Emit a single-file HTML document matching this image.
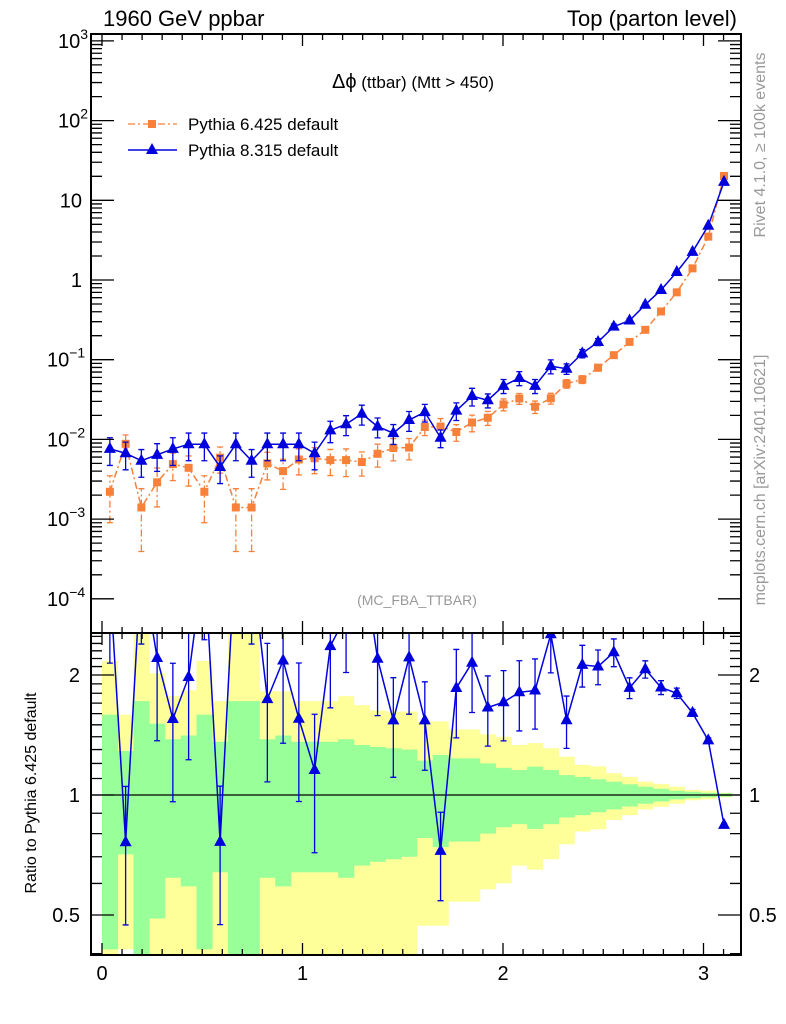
<!DOCTYPE html>
<html><head><meta charset="utf-8"><style>
html,body{margin:0;padding:0;background:#fff;width:786px;height:1024px;overflow:hidden;position:relative;}
svg{display:block;position:absolute;left:0;top:0;font-family:"Liberation Sans",Arial,sans-serif;}
</style></head><body>
<svg id="chart" width="786" height="1024" viewBox="0 0 786 1024" xmlns="http://www.w3.org/2000/svg" overflow="hidden">
<defs>
<clipPath id="clipMain"><rect x="91" y="34" width="650" height="599"/></clipPath>
<clipPath id="clipRat"><rect x="91" y="633" width="650" height="322"/></clipPath>
</defs>
<g id="bands" clip-path="url(#clipRat)"></g>
<g id="marks"></g>
<g id="axes"></g>
<text x="103" y="26" font-size="22">1960 GeV ppbar</text>
<text x="737" y="26" font-size="22" text-anchor="end">Top (parton level)</text>
<text x="413" y="88" font-size="17" text-anchor="middle"><tspan font-size="20">Δϕ</tspan> (ttbar) (Mtt &gt; 450)</text>
<text x="417" y="605" font-size="14" fill="#999" text-anchor="middle">(MC_FBA_TTBAR)</text>
<text transform="translate(765,145) rotate(-90)" font-size="16" fill="#999" text-anchor="middle">Rivet 4.1.0, ≥ 100k events</text>
<text transform="translate(765,480) rotate(-90)" font-size="16" fill="#999" text-anchor="middle">mcplots.cern.ch [arXiv:2401.10621]</text>
<text transform="translate(36,793) rotate(-90)" font-size="16" text-anchor="middle">Ratio to Pythia 6.425 default</text>
<g>
<g>
<line x1="128" y1="124" x2="177" y2="124" stroke="#f7813b" stroke-width="1.3" stroke-dasharray="7,3,2,3"/>
<rect x="148" y="120" width="8" height="8" fill="#f7813b"/>
<text x="188" y="130" font-size="17">Pythia 6.425 default</text>
</g>
<g>
<line x1="128" y1="150" x2="177" y2="150" stroke="#0000dd" stroke-width="1.5"/>
<polygon points="152,143 158,154 146,154" fill="#0000dd"/>
<text x="188" y="156" font-size="17">Pythia 8.315 default</text>
</g>
</g>
</svg>
<script>
const pythia8 = [0.0076,0.0067,0.0054,0.0064,0.0076,0.0087,0.0087,0.0045,0.0087,0.0054,0.0087,0.0087,0.0087,0.0067,0.013,0.0155,0.021,0.0145,0.012,0.0175,0.022,0.0105,0.023,0.035,0.031,0.047,0.059,0.047,0.083,0.077,0.12,0.167,0.26,0.31,0.49,0.75,1.26,2.25,4.8,17];
const pythia6 = [0.0022,0.0088,0.0014,0.0029,0.0049,0.0044,0.0022,0.0059,0.0014,0.0014,0.005,0.004,0.0056,0.0058,0.0055,0.0055,0.0052,0.0066,0.0078,0.0079,0.0143,0.0145,0.0124,0.0163,0.0187,0.0275,0.0326,0.0257,0.0328,0.05,0.0566,0.0795,0.114,0.167,0.237,0.403,0.7,1.4,3.5,20.2];
const relErr8 = [0.38,0.38,0.38,0.38,0.38,0.38,0.38,0.38,0.38,0.38,0.38,0.38,0.38,0.38,0.3,0.28,0.28,0.28,0.28,0.28,0.25,0.25,0.25,0.25,0.2,0.2,0.2,0.2,0.2,0.15,0.12,0.1,0.08,0.06,0.05,0.04,0.03,0.02,0.015,0.01];
const relErr6 = [0.59,0.29,0.72,0.51,0.38,0.41,0.59,0.36,0.72,0.72,0.38,0.41,0.36,0.36,0.36,0.38,0.335,0.32,0.31,0.30,0.22,0.26,0.236,0.236,0.2,0.17,0.155,0.178,0.155,0.122,0.11,0.095,0.08,0.064,0.049,0.037,0.025,0.019,0.013,0.01];
const yellowErr = [1.17,0.59,1.6,1.02,0.77,0.83,1.17,0.72,1.6,1.6,0.82,0.82,0.72,0.72,0.72,0.77,0.68,0.63,0.62,0.62,0.53,0.53,0.46,0.46,0.42,0.40,0.335,0.35,0.31,0.248,0.19,0.18,0.134,0.11,0.08,0.066,0.049,0.03,0.025,0.013];
const xTicks = [0,1,2,3];
const mainTicks = [-4,-3,-2,-1,0,1,2,3];
const ratioTicks = [0.5,1,2];

const NS="http://www.w3.org/2000/svg";
const nb = pythia8.length, bw = Math.PI/nb;
const clamp=(v,a,b)=>Math.min(b,Math.max(a,v));
const X = v => 102 + v*200.5;
const Y = v => clamp(280 - 79.7*Math.log10(Math.max(v,1e-9)), 20, 640);
const YR = r => clamp(795 - 398.6*Math.log10(Math.max(r,1e-3)), 625, 960);
const YRline = r => clamp(795 - 398.6*Math.log10(Math.max(r,1e-3)), 540, 960);
function mk(tag, attrs, parent){const e=document.createElementNS(NS,tag);for(const k in attrs)e.setAttribute(k,attrs[k]);parent.appendChild(e);return e;}
const bands=document.getElementById('bands'), marks=document.getElementById('marks'), axes=document.getElementById('axes');

for(let i=0;i<nb;i++){
  const x0=X(i*bw), x1=X((i+1)*bw);
  const yt=YR(1+yellowErr[i]), yb=YR(Math.max(1-yellowErr[i],1e-3));
  const r=mk('rect',{x:x0,y:yt,width:x1-x0+0.3,height:Math.max(0,yb-yt),fill:'#ffff99'},bands);
  
  
}
for(let i=0;i<nb;i++){
  const x0=X(i*bw), x1=X((i+1)*bw);
  const yt=YR(1+relErr6[i]), yb=YR(Math.max(1-relErr6[i],1e-3));
  const r=mk('rect',{x:x0,y:yt,width:x1-x0+0.3,height:Math.max(0,yb-yt),fill:'#99ff99'},bands);
  
  
}
const refLine=mk('line',{x1:91,x2:741,y1:YR(1),y2:YR(1),stroke:'#000','stroke-width':1.3},marks);



const gMain=mk('g',{'clip-path':'url(#clipMain)'},marks);
const gRat=mk('g',{'clip-path':'url(#clipRat)'},marks);

function series(g, vals, errs, color, dash, marker, yf, ylf, name){
  let pts=[];
  for(let i=0;i<nb;i++){
    const cx=X((i+0.5)*bw), cy=ylf(vals[i]);
    pts.push(cx+','+cy);
    const lo=yf(vals[i]*(1-errs[i])), hi=yf(vals[i]*(1+errs[i]));
    const eb=mk('path',{d:`M${cx},${lo}V${hi}M${cx-3},${lo}H${cx+3}M${cx-3},${hi}H${cx+3}`,stroke:color,'stroke-width':1.3,fill:'none','stroke-dasharray':dash||'none'},g);
    
    
  }
  const pl=mk('polyline',{points:pts.join(' '),fill:'none',stroke:color,'stroke-width':1.5,'stroke-dasharray':dash||'none'},g);
  
  
  for(let i=0;i<nb;i++){
    const cx=X((i+0.5)*bw), cy=ylf(vals[i]);
    let m;
    if(marker==='sq') m=mk('rect',{x:cx-4,y:cy-4,width:8,height:8,fill:color},g);
    else m=mk('polygon',{points:`${cx},${cy-7} ${cx+6},${cy+4} ${cx-6},${cy+4}`,fill:color},g);
    
    
  }
}
series(gMain,pythia6,relErr6,'#f7813b','7,3,2,3','sq',Y,Y,'pythia6');
series(gMain,pythia8,relErr8,'#0000dd',null,'tri',Y,Y,'pythia8');
series(gRat,pythia8.map((v,i)=>v/pythia6[i]),relErr8,'#0000dd',null,'tri',YR,YRline,'ratio-pythia8');

const f1=mk('rect',{x:91,y:34,width:650,height:599,fill:'none',stroke:'#000','stroke-width':2},axes);


const f2=mk('rect',{x:91,y:633,width:650,height:322,fill:'none',stroke:'#000','stroke-width':2},axes);



let d='';
for(let k=0;k<=31;k++){
  const v=k/10, x=X(v); if(x>740) break;
  const L=(k%10===0)?12:6;
  d+=`M${x},34v${L}M${x},633v${-L}M${x},633v${L}M${x},955v${-L}`;
}
for(const p of mainTicks){
  const y=280 - 79.7*p;
  if(y>=34&&y<=633) d+=`M91,${y}h23M741,${y}h-23`;
  for(let m=2;m<=9;m++){const ym=280-79.7*(p+Math.log10(m)); if(ym>=34&&ym<=633) d+=`M91,${ym}h11M741,${ym}h-11`;}
}
for(let k=4;k<=25;k++){
  const rr=k/10, y=YR(rr);
  if(y<634||y>954) continue;
  const major=[0.5,1,2].includes(rr);
  const L=major?23:11;
  d+=`M91,${y}h${L}M741,${y}h${-L}`;
}
const tk=mk('path',{d:d,stroke:'#000','stroke-width':1.3,fill:'none'},axes);



for(const v of xTicks){
  const t=mk('text',{x:X(v),y:980,'font-size':20,'text-anchor':'middle'},axes);
  t.textContent=v;
  
  
}
for(const p of mainTicks){
  const y=280 - 79.7*p;
  const t=mk('text',{x:82,y:y+7,'font-size':20,'text-anchor':'end'},axes);
  
  
  if(p===0) t.textContent='1';
  else if(p===1) t.textContent='10';
  else {
    t.textContent='10';
    const s=mk('tspan',{'font-size':14,dy:-9},t);
    s.textContent=String(p).replace('-','−');
    t.removeAttribute('text-anchor');
    t.setAttribute('x',p<0?47:58);
  }
}
for(const r of ratioTicks){
  const y=YR(r);
  const t=mk('text',{x:80,y:y+7,'font-size':20,'text-anchor':'end'},axes);
  t.textContent=r;
  
  
  const t2=mk('text',{x:749,y:y+7,'font-size':20},axes);
  t2.textContent=r;
  
  
}
</script>
</body></html>
